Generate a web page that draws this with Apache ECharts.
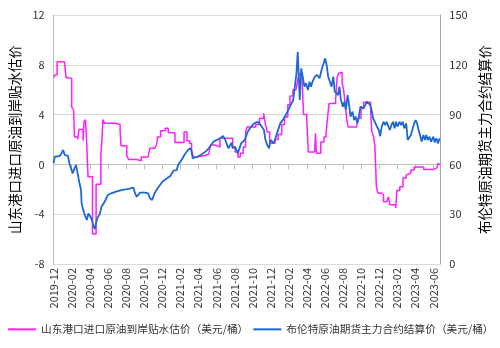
<!DOCTYPE html>
<html><head><meta charset="utf-8">
<script src="https://cdn.jsdelivr.net/npm/echarts@6/dist/echarts.min.js"></script>
<style>html,body{margin:0;padding:0;background:#fff}#c{width:500px;height:348px}</style>
</head><body><div id="c"></div>
<script>
const seriesNames = ['山东港口进口原油到岸贴水估价（美元/桶）', '布伦特原油期货主力合约结算价（美元/桶）'];
const leftAxisName = '山东港口进口原油到岸贴水估价';
const rightAxisName = '布伦特原油期货主力合约结算价';

const premiumDates = ['2019-12-01','2019-12-06','2019-12-13','2020-01-07','2020-01-13','2020-01-22','2020-02-01','2020-02-07','2020-02-10','2020-02-20','2020-02-24','2020-03-09','2020-03-12','2020-03-17','2020-03-21','2020-03-26','2020-04-10','2020-04-22','2020-05-08','2020-05-11','2020-05-15','2020-05-21','2020-06-26','2020-07-02','2020-07-12','2020-07-15','2020-08-04','2020-08-10','2020-09-06','2020-09-22','2020-10-15','2020-10-21','2020-11-07','2020-11-13','2020-11-16','2020-11-26','2020-12-12','2020-12-22','2021-01-14','2021-02-13','2021-02-22','2021-03-02','2021-03-09','2021-03-15','2021-03-28','2021-04-20','2021-05-06','2021-05-12','2021-05-28','2021-06-13','2021-07-26','2021-08-03','2021-08-13','2021-08-21','2021-08-31','2021-09-08','2021-09-13','2021-10-12','2021-10-25','2021-11-08','2021-11-14','2021-11-20','2021-11-28','2021-12-16','2021-12-27','2022-01-08','2022-01-18','2022-01-29','2022-02-05','2022-02-14','2022-02-24','2022-03-01','2022-03-06','2022-03-15','2022-03-21','2022-04-01','2022-04-06','2022-04-27','2022-04-30','2022-05-03','2022-05-18','2022-05-29','2022-06-05','2022-06-10','2022-06-15','2022-07-07','2022-07-12','2022-07-17','2022-07-22','2022-07-29','2022-08-03','2022-08-09','2022-08-14','2022-08-19','2022-09-16','2022-09-21','2022-10-01','2022-10-10','2022-11-03','2022-11-07','2022-11-12','2022-11-17','2022-11-22','2022-11-27','2022-12-09','2022-12-16','2022-12-27','2023-01-02','2023-01-07','2023-01-27','2023-01-31','2023-02-09','2023-02-19','2023-03-01','2023-03-06','2023-03-17','2023-03-28','2023-04-29','2023-06-01','2023-06-12','2023-06-17','2023-06-20','2023-06-23'];
const premiumValues = [7.0,7.2,8.25,8.2,6.95,6.9,4.6,4.4,2.2,2.0,2.8,1.9,3.4,3.6,2.0,-1.0,-5.6,-1.6,0.8,1.7,3.6,3.3,3.4,3.2,2.7,1.5,0.7,0.4,0.3,0.6,0.7,1.3,1.4,1.6,2.2,2.7,2.9,2.55,1.75,2.6,1.9,1.7,1.15,0.6,0.7,0.8,0.9,1.55,1.4,2.1,1.4,1.0,0.6,0.9,1.4,2.6,3.0,3.2,3.7,4.1,3.2,2.6,1.7,2.0,2.4,3.2,3.8,4.8,5.5,6.0,6.1,6.8,7.3,7.2,4.0,3.6,1.0,0.95,2.5,0.9,1.8,2.2,2.5,3.8,4.9,5.2,7.0,7.3,7.4,6.6,6.0,4.8,3.6,3.0,3.1,3.7,4.5,5.0,4.2,2.6,2.3,1.5,-1.8,-2.3,-2.45,-3.0,-3.1,-2.6,-3.25,-3.5,-2.1,-1.8,-1.1,-0.85,-0.7,-0.45,-0.2,-0.4,-0.3,-0.25,0.1,-0.05,-0.05];

const brentDates = ['2019-12-01','2019-12-05','2019-12-21','2019-12-27','2020-01-03','2020-01-08','2020-01-19','2020-01-24','2020-02-04','2020-02-10','2020-02-15','2020-02-20','2020-02-26','2020-03-02','2020-03-04','2020-03-08','2020-03-17','2020-03-22','2020-03-27','2020-04-03','2020-04-08','2020-04-14','2020-04-18','2020-04-21','2020-04-26','2020-05-05','2020-05-10','2020-05-21','2020-06-01','2020-06-12','2020-06-28','2020-07-20','2020-08-11','2020-08-27','2020-09-01','2020-09-07','2020-09-18','2020-10-04','2020-10-15','2020-10-21','2020-10-29','2020-11-06','2020-11-16','2020-12-02','2020-12-18','2020-12-29','2021-01-09','2021-01-20','2021-01-25','2021-02-06','2021-02-16','2021-02-27','2021-03-02','2021-03-07','2021-03-13','2021-03-18','2021-03-29','2021-04-09','2021-04-25','2021-05-06','2021-05-22','2021-06-02','2021-06-13','2021-06-23','2021-06-29','2021-07-05','2021-07-11','2021-07-15','2021-07-22','2021-07-26','2021-08-03','2021-08-13','2021-08-24','2021-09-05','2021-09-15','2021-09-26','2021-10-07','2021-10-18','2021-10-29','2021-11-09','2021-11-14','2021-11-20','2021-11-26','2021-12-01','2021-12-12','2021-12-23','2022-01-03','2022-01-13','2022-01-24','2022-02-04','2022-02-15','2022-02-20','2022-02-25','2022-03-01','2022-03-05','2022-03-08','2022-03-13','2022-03-19','2022-03-24','2022-03-29','2022-04-05','2022-04-10','2022-04-15','2022-04-20','2022-04-28','2022-05-06','2022-05-14','2022-05-22','2022-05-28','2022-06-02','2022-06-07','2022-06-12','2022-06-18','2022-06-23','2022-06-29','2022-07-04','2022-07-15','2022-07-20','2022-07-25','2022-08-01','2022-08-06','2022-08-11','2022-08-17','2022-08-22','2022-08-27','2022-09-03','2022-09-08','2022-09-13','2022-09-19','2022-09-24','2022-09-29','2022-10-05','2022-10-10','2022-10-21','2022-10-26','2022-11-01','2022-11-06','2022-11-11','2022-11-17','2022-11-24','2022-11-30','2022-12-05','2022-12-10','2022-12-16','2022-12-22','2022-12-27','2023-01-02','2023-01-07','2023-01-12','2023-01-18','2023-01-23','2023-01-28','2023-02-02','2023-02-08','2023-02-13','2023-02-18','2023-02-23','2023-03-01','2023-03-06','2023-03-12','2023-03-17','2023-03-22','2023-03-28','2023-04-02','2023-04-07','2023-04-12','2023-04-17','2023-04-22','2023-04-28','2023-05-03','2023-05-08','2023-05-13','2023-05-19','2023-05-24','2023-06-01','2023-06-05','2023-06-11','2023-06-16','2023-06-22'];
const brentValues = [60.8,64.6,65.0,66.3,68.7,65.7,65.2,60.7,54.6,57.6,59.6,54.6,48.6,44.6,36.5,33.5,28.5,26.5,30.5,28.5,26.5,22.5,21.0,24.1,27.5,30.5,34.5,37.5,41.6,42.6,43.6,44.6,45.2,46.0,42.6,40.5,43.0,43.0,42.6,39.6,38.6,42.6,45.6,49.6,51.6,53.0,56.2,56.6,59.6,63.0,66.3,69.1,68.7,69.7,63.7,62.7,64.6,65.7,67.7,69.7,73.7,74.7,75.7,77.1,75.5,74.5,69.7,70.0,73.0,69.7,70.7,66.7,72.7,74.7,79.7,82.7,84.7,85.7,83.7,80.7,74.7,71.7,69.7,74.7,72.7,78.7,84.7,87.0,90.5,94.5,98.8,106.8,114.9,127.9,110.8,98.8,117.9,111.9,106.8,108.8,104.8,109.8,106.8,109.8,112.9,113.9,111.9,117.9,120.9,123.9,119.9,112.9,113.9,106.8,112.9,103.8,101.8,106.8,98.8,94.8,97.8,92.8,101.8,95.8,88.8,91.8,86.7,88.8,84.7,88.8,94.8,95.8,93.8,97.8,98.8,95.8,92.8,87.8,86.7,82.7,80.7,77.0,82.7,85.7,83.7,85.7,82.7,80.7,83.7,85.7,81.7,85.7,82.7,85.7,83.7,85.7,81.7,84.7,74.7,73.7,77.7,80.7,84.7,86.7,84.7,80.7,77.7,73.7,77.7,74.7,77.7,74.7,76.7,73.7,76.7,73.3,75.7,72.7,75.7];

const leftTicks = [-8, 12, 4];   // min, max, interval
const rightTicks = [0, 150, 30];
const xEnd = '2023-06-24';

function monthIndex(s) {
  const p = s.split('-').map(Number);
  const dim = new Date(p[0], p[1], 0).getDate();
  return (p[0] - 2019) * 12 + (p[1] - 12) + (p[2] - 1) / dim;
}
function monthLabel(v) {
  const k = Math.round(v);
  if (Math.abs(v - k) > 1e-6 || k % 2 !== 0) return '';
  const y = 2019 + Math.floor((11 + k) / 12);
  const m = (11 + k) % 12 + 1;
  return y + '-' + String(m).padStart(2, '0');
}

const font = '"Noto Sans CJK SC", "Noto Sans", sans-serif';
const chart = echarts.init(document.getElementById('c'));
chart.setOption({
  animation: false,
  textStyle: { fontFamily: font },
  grid: { left: 46.7, right: 51, top: 15, bottom: 84, containLabel: false },
  legend: {
    left: 3, top: 319, width: 560, itemWidth: 28, itemHeight: 2, itemGap: 5, icon: 'rect',
    textStyle: { fontSize: 10.7, color: '#333', fontFamily: font },
    data: seriesNames
  },
  xAxis: {
    type: 'value', min: 0, max: monthIndex(xEnd), interval: 2,
    axisLine: { show: true, lineStyle: { color: '#bfbfbf' } },
    axisTick: { show: true, length: 5, lineStyle: { color: '#bfbfbf' } },
    splitLine: { show: false },
    axisLabel: { rotate: 90, fontSize: 11, color: '#333', margin: 4, formatter: monthLabel, showMaxLabel: false }
  },
  yAxis: [{
    type: 'value', min: leftTicks[0], max: leftTicks[1], interval: leftTicks[2],
    name: leftAxisName, nameLocation: 'middle', nameRotate: 90, nameGap: 30,
    nameTextStyle: { fontSize: 13.5, color: '#000' },
    axisLine: { show: true, lineStyle: { color: '#bfbfbf' } },
    axisTick: { show: false },
    splitLine: { show: true, lineStyle: { color: '#d9d9d9' } },
    axisLabel: { fontSize: 11, color: '#333', margin: 9 }
  }, {
    type: 'value', min: rightTicks[0], max: rightTicks[1], interval: rightTicks[2],
    name: rightAxisName, nameLocation: 'middle', nameRotate: 90, nameGap: 38,
    nameTextStyle: { fontSize: 13.5, color: '#000' },
    axisLine: { show: true, lineStyle: { color: '#a6a6a6' } },
    axisTick: { show: false },
    splitLine: { show: false },
    axisLabel: { fontSize: 11, color: '#333', margin: 9 }
  }],
  series: [{
    name: seriesNames[0], type: 'line', yAxisIndex: 0, step: 'end',
    symbol: 'none', color: '#ff1fff', lineStyle: { width: 1.5, color: '#ff1fff' },
    data: premiumDates.map((d, i) => [monthIndex(d), premiumValues[i]])
  }, {
    name: seriesNames[1], type: 'line', yAxisIndex: 1,
    symbol: 'none', color: '#1f68cf', lineStyle: { width: 1.8, color: '#1f68cf' },
    data: brentDates.map((d, i) => [monthIndex(d), brentValues[i]])
  }]
});
</script></body></html>
